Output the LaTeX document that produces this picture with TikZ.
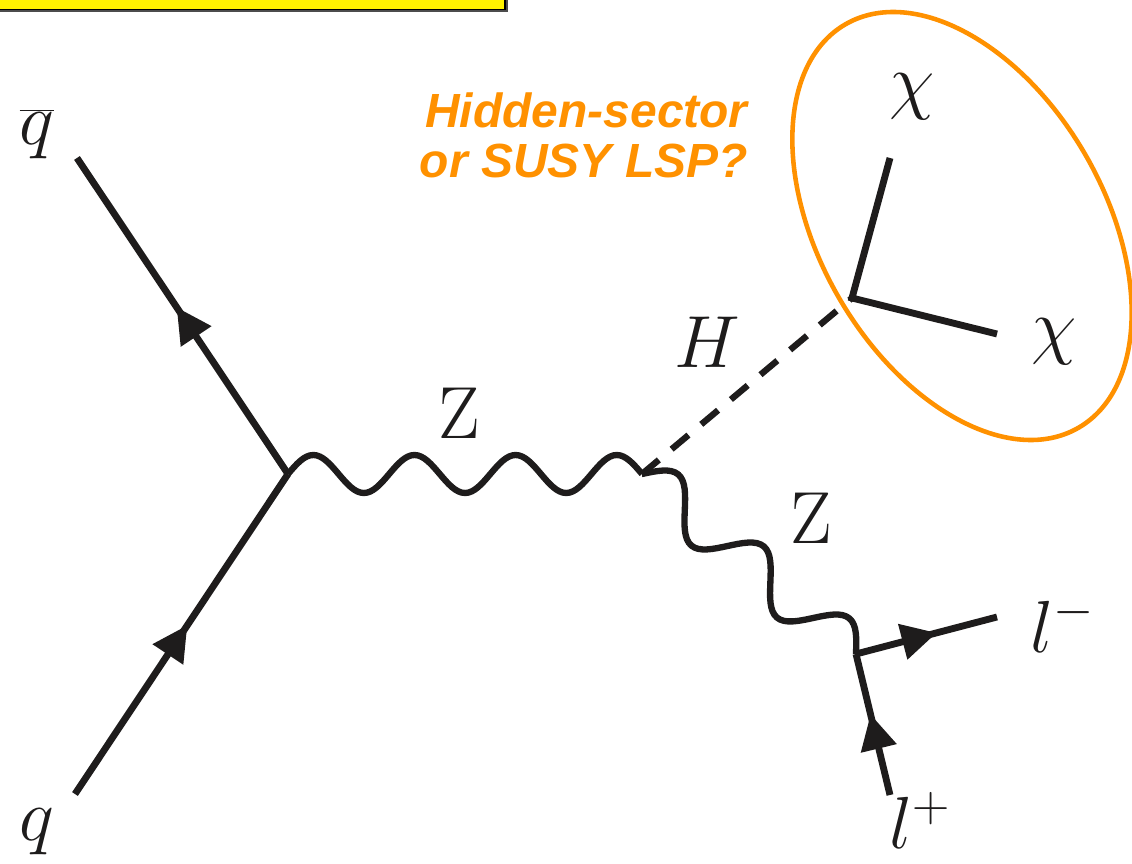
\RequirePackage{fix-cm}
\documentclass[tikz,border=0pt]{standalone}
\usepackage{fontspec}
\newfontfamily\orfont{Liberation Sans}
\usetikzlibrary{decorations.markings,arrows.meta}
\definecolor{hid}{RGB}{255,145,0}
\definecolor{ink}{RGB}{30,28,28}
\begin{document}
\begin{tikzpicture}[x=0.02cm,y=-0.02cm,
  line/.style={ink,line width=3.9pt},
  fermion/.style={line, postaction={decorate},
    decoration={markings, mark=at position 0.5 with {\arrow[xshift=6pt]{Triangle[length=20pt,width=20pt]}}}},
  boson/.style={ink,line width=3.6pt, line join=round},
  higgs/.style={ink,line width=3.6pt, dash pattern=on 12.5pt off 9.5pt},
  lbl/.style={ink, inner sep=0pt, font=\fontsize{42}{42}\selectfont},
  hidtxt/.style={text=hid, inner sep=0pt, anchor=base east, font=\orfont\bfseries\itshape\fontsize{27.3}{28}\selectfont}
]
\useasboundingbox (0,0) rectangle (1132,864);
\clip (0,0) rectangle (1132,864);
% yellow box
\fill[black!70] (-20,-40) rectangle (508,12);
\draw[black, line width=0.9pt, fill=yellow] (-20,-40) rectangle (505,9.5);
% vertices and end points
\coordinate (v1) at (288,474);
\coordinate (v2) at (642,474);
\coordinate (v3) at (856,654);
\coordinate (v4) at (852,298);
\coordinate (qb) at (77,158);
\coordinate (q) at (75,794);
\coordinate (lm) at (997,617);
\coordinate (lp) at (890,795);
\coordinate (c1) at (890,158);
\coordinate (c2) at (997,334);
% fermion lines
\draw[fermion] (v1) -- (qb);
\draw[fermion] (q) -- (v1);
\draw[fermion] (v3) -- (lm);
\draw[fermion] (lp) -- (v3);
% Z boson 1 (3.5 periods)
\draw[boson] (v1)
  sin ++(25.29,-19) cos ++(25.29,19) sin ++(25.29,19) cos ++(25.29,-19)
  sin ++(25.29,-19) cos ++(25.29,19) sin ++(25.29,19) cos ++(25.29,-19)
  sin ++(25.29,-19) cos ++(25.29,19) sin ++(25.29,19) cos ++(25.29,-19)
  sin ++(25.29,-19) cos ++(25.29,19) -- (v2);
% Z boson 2 (2.5 periods along the diagonal)
\begin{scope}[shift={(v2)}, rotate=-40.07]
\draw[boson] (0,0)
  sin ++(27.96,-23) cos ++(27.96,23) sin ++(27.96,23) cos ++(27.96,-23)
  sin ++(27.96,-23) cos ++(27.96,23) sin ++(27.96,23) cos ++(27.96,-23)
  sin ++(27.96,-23) cos ++(27.96,23);
\end{scope}
% Higgs
\draw[higgs] (v2) -- (v4);
% chi lines
\draw[line, line join=miter] (c1) -- (v4) -- (c2);
% ellipse
\draw[hid, line width=2.6pt, rotate around={-60:(962,226)}] (962,226) ellipse [x radius=4.66cm, y radius=2.85cm];
% labels
\node[lbl] (lqb) at (37,134) {$\overline{q}$};
\node[lbl] (lq) at (37,832) {$q$};
\node[lbl] (lz1) at (459,413) {$\mathrm{Z}$};
\node[lbl] (lh) at (707,342) {$H$};
\node[lbl] (lz2) at (811,518) {$\mathrm{Z}$};
\node[lbl] (lc1) at (912,97) {$\chi$};
\node[lbl] (lc2) at (1054,342) {$\chi$};
\node[lbl, anchor=base west] (llm) at (1030,652) {$l^{-}$};
\node[lbl, anchor=base west] (llp) at (889,848) {$l^{+}$};
\node[hidtxt] (h1) at (748,128) {Hidden-sector};
\node[hidtxt] (h2) at (748,178) {or SUSY LSP?};
\end{tikzpicture}
\end{document}
